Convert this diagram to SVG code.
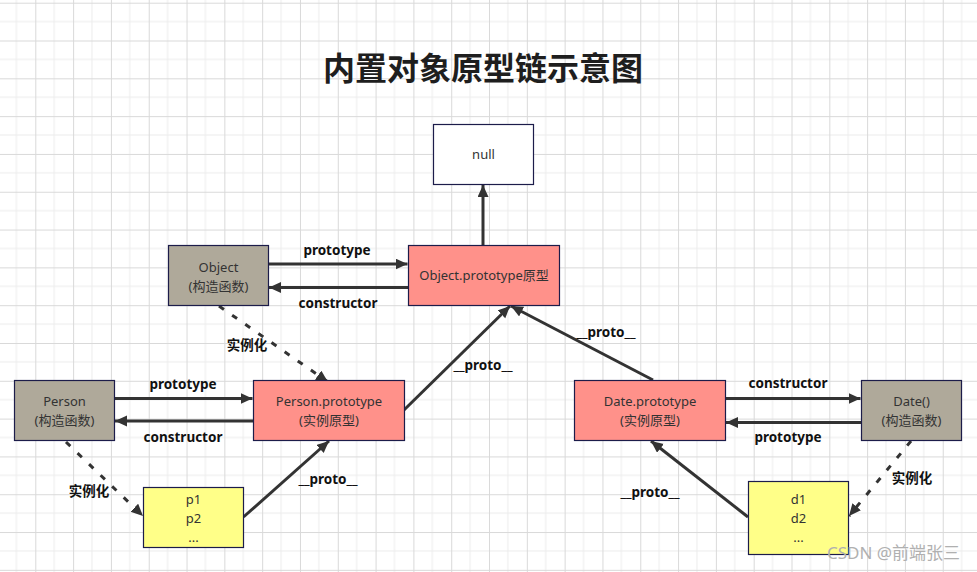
<svg xmlns="http://www.w3.org/2000/svg" width="977" height="572" viewBox="0 0 977 572">
<style>
.bg{fill:#ffffff}
.node rect{stroke:#1c1c4a;stroke-width:1.2}
.ctor{fill:#afa99a}
.proto{fill:#ff918a}
.inst{fill:#ffff88}
.plain{fill:#ffffff}
.nt{font-family:"Noto Sans","Noto Sans CJK SC",sans-serif;font-size:13px;fill:#333333;text-anchor:middle}
.lbl{font-family:"Noto Sans","Noto Sans CJK SC",sans-serif;font-size:13.5px;font-weight:bold;fill:#111111;text-anchor:middle}
.title{font-family:"Noto Sans CJK SC",sans-serif;font-size:32px;font-weight:bold;fill:#1e1e1e;text-anchor:middle}
.wm{font-family:"Noto Sans","Noto Sans CJK SC",sans-serif;font-size:17px;fill:#b0b0b0}
.edge{stroke:#333333;stroke-width:3;fill:none;marker-end:url(#ah)}
.dash{stroke:#333333;stroke-width:3;fill:none;stroke-dasharray:6 10;marker-end:url(#ah)}
</style>
<defs>
<pattern id="grid" patternUnits="userSpaceOnUse" x="35.3" y="2.7" width="37.81" height="37.81">
<path d="M18.9 0V37.81M0 18.9H37.81" stroke="#ececec" stroke-width="1" fill="none"/>
<path d="M0.5 0V37.81M0 0.5H37.81" stroke="#d9d9d9" stroke-width="1" fill="none"/>
</pattern>
<marker id="ah" markerUnits="userSpaceOnUse" markerWidth="14" markerHeight="12" refX="12" refY="5.5" orient="auto">
<path d="M0,0 L12,5.5 L0,11 z" fill="#333333"/>
</marker>
</defs>
<rect class="bg" x="0" y="0" width="977" height="572"/>
<rect x="0" y="0" width="977" height="572" fill="url(#grid)"/>
<text class="title" x="483" y="80">内置对象原型链示意图</text>

<g id="connectors">
<line class="edge" x1="483" y1="245" x2="483" y2="185"/>
<line class="edge" x1="268.5" y1="264" x2="407.5" y2="264"/>
<line class="edge" x1="408" y1="287.5" x2="269" y2="287.5"/>
<line class="edge" x1="114.5" y1="398.5" x2="252.5" y2="398.5"/>
<line class="edge" x1="253" y1="421" x2="115" y2="421"/>
<line class="edge" x1="725.5" y1="398.5" x2="860.5" y2="398.5"/>
<line class="edge" x1="861" y1="422.5" x2="726" y2="422.5"/>
<line class="edge" x1="404" y1="410" x2="510" y2="306"/>
<line class="edge" x1="653" y1="380" x2="511" y2="306"/>
<line class="edge" x1="243.5" y1="517" x2="329" y2="441"/>
<line class="edge" x1="748" y1="517" x2="651" y2="441"/>
<line class="dash" x1="66" y1="442" x2="143" y2="516"/>
<line class="dash" x1="219" y1="306" x2="328" y2="382"/>
<line class="dash" x1="911" y1="441" x2="849" y2="516"/>
<text class="lbl" x="337" y="255">prototype</text>
<text class="lbl" x="338" y="308">constructor</text>
<text class="lbl" x="183" y="389">prototype</text>
<text class="lbl" x="183" y="442">constructor</text>
<text class="lbl" x="788" y="388">constructor</text>
<text class="lbl" x="788" y="442">prototype</text>
<text class="lbl" x="483" y="370">__proto__</text>
<text class="lbl" x="606" y="337">__proto__</text>
<text class="lbl" x="328" y="484">__proto__</text>
<text class="lbl" x="650" y="497">__proto__</text>
<text class="lbl" x="247" y="350">实例化</text>
<text class="lbl" x="89" y="496">实例化</text>
<text class="lbl" x="912" y="483">实例化</text>
</g>

<g id="null" class="node">
<rect class="plain" x="433.5" y="124.5" width="100" height="60"/>
<text class="nt" x="483.5" y="159">null</text>
</g>
<g id="object" class="node">
<rect class="ctor" x="168.5" y="245.5" width="100" height="60"/>
<text class="nt" x="218.5" y="271.5">Object</text>
<text class="nt" x="218.5" y="290.5">(构造函数)</text>
</g>
<g id="object-prototype" class="node">
<rect class="proto" x="408.5" y="245.5" width="151" height="60"/>
<text class="nt" x="484" y="280">Object.prototype原型</text>
</g>
<g id="person" class="node">
<rect class="ctor" x="14.5" y="380.5" width="100" height="60"/>
<text class="nt" x="64.5" y="406">Person</text>
<text class="nt" x="64.5" y="425">(构造函数)</text>
</g>
<g id="person-prototype" class="node">
<rect class="proto" x="253.5" y="380.5" width="151" height="60"/>
<text class="nt" x="329" y="406">Person.prototype</text>
<text class="nt" x="329" y="425">(实例原型)</text>
</g>
<g id="person-instances" class="node">
<rect class="inst" x="143.5" y="487.5" width="100" height="60"/>
<text class="nt" x="193.5" y="504">p1</text>
<text class="nt" x="193.5" y="523">p2</text>
<text class="nt" x="193.5" y="542">...</text>
</g>
<g id="date-prototype" class="node">
<rect class="proto" x="574.5" y="380.5" width="151" height="60"/>
<text class="nt" x="650" y="406">Date.prototype</text>
<text class="nt" x="650" y="425">(实例原型)</text>
</g>
<g id="date" class="node">
<rect class="ctor" x="861.5" y="380.5" width="100" height="60"/>
<text class="nt" x="911.5" y="406">Date()</text>
<text class="nt" x="911.5" y="425">(构造函数)</text>
</g>
<g id="date-instances" class="node">
<rect class="inst" x="748.5" y="481.5" width="100" height="73"/>
<text class="nt" x="798.5" y="504">d1</text>
<text class="nt" x="798.5" y="523">d2</text>
<text class="nt" x="798.5" y="542">...</text>
</g>
<text class="wm" x="827" y="559">CSDN @前端张三</text>
</svg>
